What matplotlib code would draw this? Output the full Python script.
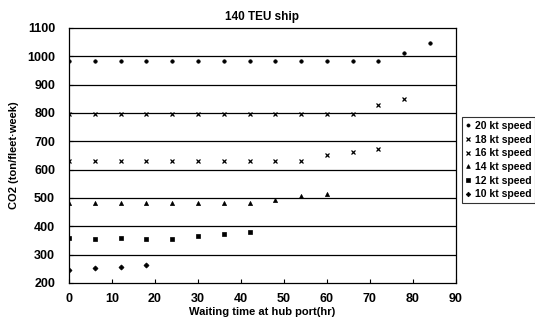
import matplotlib
matplotlib.use("Agg")
import matplotlib.pyplot as plt

plt.rcParams['font.family'] = ['Liberation Sans', 'DejaVu Sans']
plt.rcParams['font.weight'] = 'bold'

title = "140 TEU ship"
xlabel = "Waiting time at hub port(hr)"
ylabel = "CO2 (ton/fleet\u00b7week)"

x20 = [0, 6, 12, 18, 24, 30, 36, 42, 48, 54, 60, 66, 72, 78, 84]
y20 = [983, 983, 983, 983, 983, 983, 983, 983, 983, 983, 983, 983, 983, 1012, 1046]
x18 = [0, 6, 12, 18, 24, 30, 36, 42, 48, 54, 60, 66, 72, 78]
y18 = [795, 795, 795, 795, 795, 795, 795, 795, 795, 795, 795, 795, 828, 848]
x16 = [0, 6, 12, 18, 24, 30, 36, 42, 48, 54, 60, 66, 72]
y16 = [629, 629, 629, 629, 629, 629, 629, 629, 629, 629, 650, 662, 671]
x14 = [0, 6, 12, 18, 24, 30, 36, 42, 48, 54, 60]
y14 = [483, 483, 483, 483, 483, 483, 483, 483, 494, 505, 513]
x12 = [0, 6, 12, 18, 24, 30, 36, 42]
y12 = [357, 356, 357, 356, 356, 365, 372, 379]
x10 = [0, 6, 12, 18]
y10 = [247, 251, 256, 262]

labels = ["20 kt speed", "18 kt speed", "16 kt speed", "14 kt speed", "12 kt speed", "10 kt speed"]
xticks = [0, 10, 20, 30, 40, 50, 60, 70, 80, 90]
yticks = [200, 300, 400, 500, 600, 700, 800, 900, 1000, 1100]

fig = plt.figure(figsize=(5.35, 3.24), dpi=100)
ax = fig.add_axes([0.129, 0.127, 0.723, 0.787])

series = [(x20, y20, 'o', 2.5), (x18, y18, 'x', 3.0), (x16, y16, 'x', 3.0),
          (x14, y14, '^', 3.0), (x12, y12, 's', 2.6), (x10, y10, 'D', 2.6)]
handles = []
for (xs, ys, m, ms), lab in zip(series, labels):
    h, = ax.plot(xs, ys, linestyle='none', marker=m, markersize=ms, color='black',
                 markeredgewidth=0.9 if m == 'x' else 0.5, label=lab, zorder=3)
    handles.append(h)

for yv in yticks[1:-1]:
    ax.axhline(yv, color='black', linewidth=0.9, zorder=1)

ax.set_xlim(0, 90)
ax.set_ylim(200, 1100)
ax.set_xticks(xticks)
ax.set_yticks(yticks)
ax.tick_params(direction='in', length=3, width=0.8, labelsize=9)
ax.tick_params(axis='y', pad=10)
ax.tick_params(axis='x', pad=7)
for lab in ax.get_xticklabels() + ax.get_yticklabels():
    lab.set_fontweight('bold')
for s in ax.spines.values():
    s.set_linewidth(0.9)
    s.set_color('black')

ax.set_title(title, fontsize=8.5, fontweight='bold', pad=6)
ax.set_xlabel(xlabel, fontsize=8, fontweight='bold', labelpad=2)
ax.set_ylabel(ylabel, fontsize=8, fontweight='bold', labelpad=6)

leg = fig.legend(handles=handles, labels=labels, loc='upper left',
                 bbox_to_anchor=(0.863, 0.638), fontsize=7.5, frameon=True,
                 fancybox=False, edgecolor='black', handlelength=0.6,
                 handletextpad=0.3, borderpad=0.35, labelspacing=0.35,
                 borderaxespad=0, markerscale=0.9)
leg.get_frame().set_linewidth(0.8)
for t in leg.get_texts():
    t.set_fontweight('bold')

fig.savefig("out.png", dpi=100)
